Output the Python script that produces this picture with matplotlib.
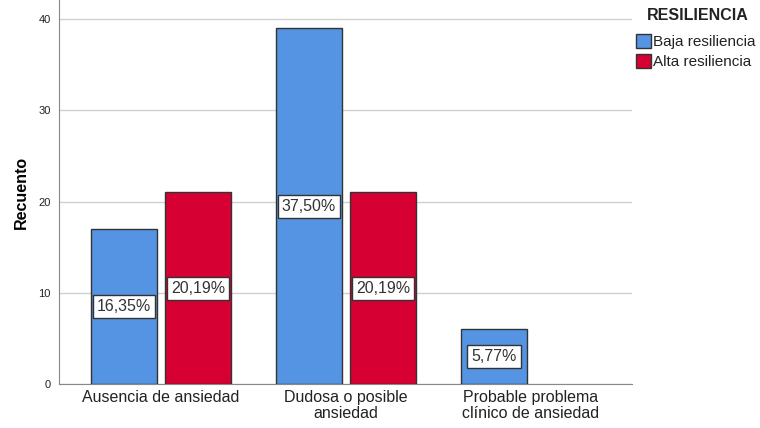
import numpy as np
import matplotlib.pyplot as plt
from matplotlib.patches import Rectangle

plt.rcParams['font.family'] = ['Liberation Sans', 'DejaVu Sans']

categories = ['Ausencia de ansiedad', 'Dudosa o posible\nansiedad',
              'Probable problema\nclínico de ansiedad']
baja = [17, 39, 6]
alta = [21, 21, 0]
baja_pct = ['16,35%', '37,50%', '5,77%']
alta_pct = ['20,19%', '20,19%', '']
series = ['Baja resiliencia', 'Alta resiliencia']
colors = ['#5593e3', '#d60032']

W, H = 760, 428
fig = plt.figure(figsize=(7.6, 4.28), dpi=100)
ax = fig.add_axes([59 / W, 1 - 384 / H, (632 - 59) / W, 384 / H])

x = np.arange(len(categories))
w = 0.357
off = 0.2
for vals, labs, col, sgn in [(baja, baja_pct, colors[0], -1),
                             (alta, alta_pct, colors[1], 1)]:
    for xi, v, lab in zip(x, vals, labs):
        if v == 0:
            continue
        ax.bar(xi + sgn * off, v, width=w, color=col, edgecolor='#333333',
               linewidth=1, zorder=3)
        ax.text(xi + sgn * off, v / 2, lab, ha='center', va='center',
                fontsize=11.5, color='#333333', zorder=4,
                bbox=dict(boxstyle='square,pad=0.25', fc='white',
                          ec='#333333', lw=1))

ax.set_xlim(-0.551, 2.546)
ax.set_ylim(0, 42.1)
ax.set_yticks([0, 10, 20, 30, 40])
ax.tick_params(axis='y', length=0, labelsize=8, pad=6, labelcolor='#222222')
ax.tick_params(axis='x', length=0, labelsize=11.5, pad=4, labelcolor='#222222')
ax.set_xticks(x)
ax.set_xticklabels(categories, linespacing=1.1)
ax.yaxis.grid(True, color='#d0d0d0', lw=1, zorder=0)
ax.spines['top'].set_visible(False)
ax.spines['right'].set_visible(False)
ax.spines['left'].set_color('#888888')
ax.spines['bottom'].set_color('#888888')
ax.set_ylabel('Recuento', fontsize=11.5, fontweight='bold', labelpad=7)

# legend drawn by hand, in figure pixels
fig.text(698 / W, 1 - 15 / H, 'RESILIENCIA', ha='center', va='center',
         fontsize=11.5, fontweight='bold', color='#222222')
for i, (s, c) in enumerate(zip(series, colors)):
    yc = 41 + i * 20
    fig.patches.append(Rectangle((636 / W, 1 - (yc + 7) / H), 15 / W, 14 / H,
                                 transform=fig.transFigure, facecolor=c,
                                 edgecolor='#333333', lw=1))
    fig.text(653 / W, 1 - (yc + 1) / H, s, ha='left', va='center',
             fontsize=11, color='#222222')

fig.savefig('out.png', dpi=100)
